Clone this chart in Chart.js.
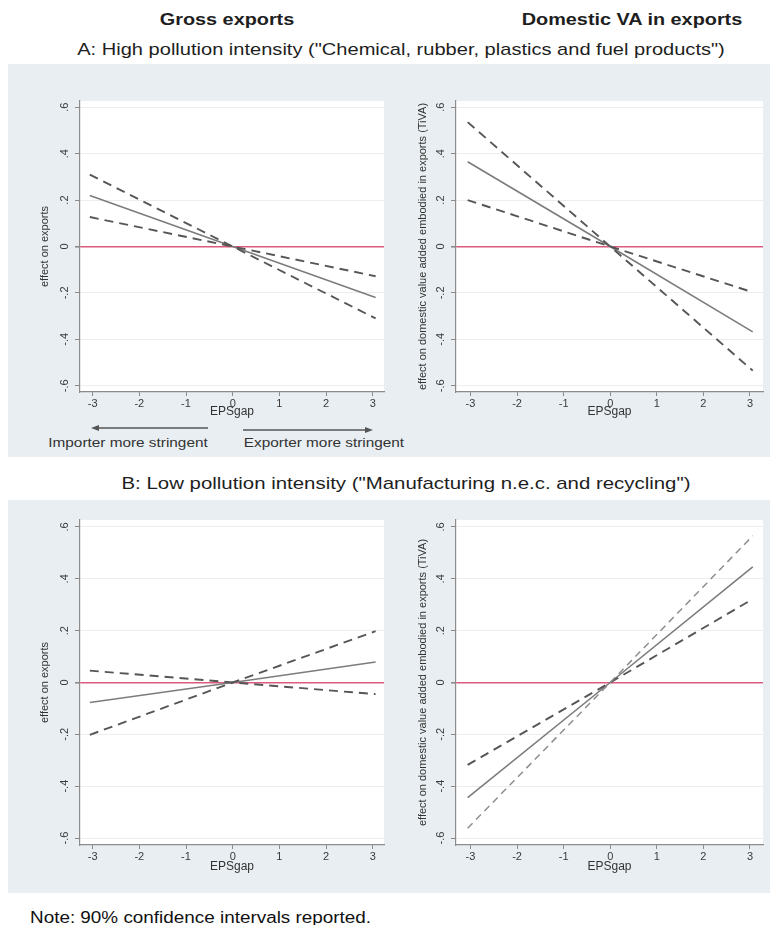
<!DOCTYPE html>
<html><head><meta charset="utf-8">
<script src="https://cdn.jsdelivr.net/npm/chart.js@4/dist/chart.umd.min.js"></script>
<style>
html,body{margin:0;padding:0;background:#fff;}
body{width:777px;height:925px;position:relative;overflow:hidden;font-family:'Liberation Sans',Arial,sans-serif;color:#1e1e1e;}
.panel{position:absolute;left:8px;width:762px;background:#e8eef1;}
.t{position:absolute;white-space:nowrap;line-height:1;transform-origin:center center;}
.wrap{position:absolute;}
</style></head><body>
<div class="panel" style="top:64px;height:393px"></div>
<div class="panel" style="top:500px;height:393px"></div>

<div class="t" style="left:227px;top:20px;font-size:16px;font-weight:bold;transform:translate(-50%,-50%) scaleX(1.24)">Gross exports</div>
<div class="t" style="left:632px;top:20px;font-size:16px;font-weight:bold;transform:translate(-50%,-50%) scaleX(1.24)">Domestic VA in exports</div>
<div class="t" style="left:401px;top:49px;font-size:17px;transform:translate(-50%,-50%) scaleX(1.18)">A: High pollution intensity (&quot;Chemical, rubber, plastics and fuel products&quot;)</div>
<div class="t" style="left:406px;top:483px;font-size:17px;transform:translate(-50%,-50%) scaleX(1.2)">B: Low pollution intensity (&quot;Manufacturing n.e.c. and recycling&quot;)</div>
<div class="t" style="left:128px;top:442px;font-size:13px;color:#333;transform:translate(-50%,-50%) scaleX(1.18)">Importer more stringent</div>
<div class="t" style="left:324px;top:442px;font-size:13px;color:#333;transform:translate(-50%,-50%) scaleX(1.18)">Exporter more stringent</div>
<div class="t" style="left:30px;top:918px;font-size:16px;color:#111;transform-origin:left center;transform:translateY(-50%) scaleX(1.18)">Note: 90% confidence intervals reported.</div>

<svg style="position:absolute;left:0;top:415px" width="400" height="25">
  <line x1="208" y1="13" x2="96" y2="13" stroke="#555" stroke-width="1.4"/>
  <polygon points="91,13 99,10 99,16" fill="#555"/>
  <line x1="243" y1="15" x2="368" y2="15" stroke="#555" stroke-width="1.4"/>
  <polygon points="373,15 365,12 365,18" fill="#555"/>
</svg>

<div class="wrap" style="left:8px;top:64px;width:380px;height:393px"><canvas id="c1"></canvas></div>
<div class="wrap" style="left:388px;top:64px;width:382px;height:393px"><canvas id="c2"></canvas></div>
<div class="wrap" style="left:8px;top:500px;width:380px;height:393px"><canvas id="c3"></canvas></div>
<div class="wrap" style="left:388px;top:500px;width:382px;height:393px"><canvas id="c4"></canvas></div>

<script>
// ---- data ----
const epsGap = [-3.06, 0, 3.06];
const xTicks = [-3, -2, -1, 0, 1, 2, 3];
const xTickLabels = ['-3', '-2', '-1', '0', '1', '2', '3'];
const yTicks = [-0.6, -0.4, -0.2, 0, 0.2, 0.4, 0.6];
const yTickLabels = ['-.6', '-.4', '-.2', '0', '.2', '.4', '.6'];

// A: High pollution intensity — gross exports
const grossA_est = [0.22, 0, -0.22];
const grossA_ciSteep = [0.31, 0, -0.31];
const grossA_ciFlat = [0.127, 0, -0.128];
// A: High pollution intensity — domestic VA (TiVA)
const tivaA_est = [0.365, 0, -0.368];
const tivaA_ciSteep = [0.536, 0, -0.535];
const tivaA_ciFlat = [0.2, 0, -0.197];
// B: Low pollution intensity — gross exports
const grossB_est = [-0.077, 0, 0.079];
const grossB_ciSteep = [-0.202, 0, 0.198];
const grossB_ciFlat = [0.046, 0, -0.045];
// B: Low pollution intensity — domestic VA (TiVA)
const tivaB_est = [-0.444, 0, 0.446];
const tivaB_ciSteep = [-0.562, 0, 0.566];
const tivaB_ciFlat = [-0.318, 0, 0.322];

const yTitleGross = 'effect on exports';
const yTitleTiva = 'effect on domestic value added embodied in exports (TiVA)';
const xTitle = 'EPSgap';

// ---- drawing ----
Chart.defaults.font.family = "'Liberation Sans', Arial, sans-serif";
const pts = arr => epsGap.map((x, i) => ({x: x, y: arr[i]}));

const plotBg = {
  id: 'plotBg',
  beforeDraw(chart) {
    const a = chart.chartArea, c = chart.ctx;
    c.save(); c.fillStyle = '#ffffff';
    c.fillRect(a.left, a.top, a.right - a.left, a.bottom - a.top);
    c.restore();
  }
};

function makeChart(id, s) {
  return new Chart(document.getElementById(id), {
    type: 'line',
    data: {datasets: [
      {data: pts(s.steep), borderColor: s.steepColor || '#565656', borderWidth: s.steepWidth || 1.9, borderDash: s.steepDash || [9, 6]},
      {data: pts(s.flat), borderColor: '#565656', borderWidth: 1.9, borderDash: [9, 6]},
      {data: pts(s.est), borderColor: '#7c7c7c', borderWidth: 1.6}
    ]},
    options: {
      responsive: true, maintainAspectRatio: false, animation: false,
      layout: {padding: {top: s.padTop, right: s.padRight, left: 0, bottom: 0}},
      plugins: {legend: {display: false}, tooltip: {enabled: false}},
      elements: {point: {radius: 0}, line: {tension: 0}},
      scales: {
        x: {
          type: 'linear', min: s.xmin, max: s.xmax,
          afterBuildTicks: sc => { sc.ticks = xTicks.map(v => ({value: v})); },
          afterFit: sc => { sc.height = s.xH; },
          grid: {drawOnChartArea: false, drawTicks: true, tickLength: 4, tickColor: '#8a8a8a'},
          border: {display: true, color: '#8c8c8c', width: 1.2},
          ticks: {autoSkip: false, maxRotation: 0, padding: 1, color: '#3a3a3a', font: {size: 11},
                  callback: (v, i) => xTickLabels[i]},
          title: {display: true, text: xTitle, color: '#333', font: {size: 12},
                  padding: {top: 0, bottom: s.xTitlePad}}
        },
        y: {
          type: 'linear', min: -0.627, max: 0.627,
          afterBuildTicks: sc => { sc.ticks = yTicks.map(v => ({value: v})); },
          afterFit: sc => { sc.width = s.yW; },
          grid: {drawTicks: true, tickLength: 5, tickColor: '#8a8a8a',
                 color: c => (c.tick && c.tick.value === 0) ? '#dc5a7c' : '#e9eef1',
                 lineWidth: c => (c.tick && c.tick.value === 0) ? 1.6 : 1},
          border: {display: true, color: '#8c8c8c', width: 1.2},
          ticks: {autoSkip: false, minRotation: 90, maxRotation: 90, crossAlign: 'center', padding: 4,
                  color: '#3a3a3a', font: {size: 11}, callback: (v, i) => yTickLabels[i]},
          title: {display: true, text: s.yTitle, color: '#333', font: {size: 11},
                  padding: {top: s.yTitlePad, bottom: 0}}
        }
      }
    },
    plugins: [plotBg]
  });
}

makeChart('c1', {est: grossA_est, steep: grossA_ciSteep, flat: grossA_ciFlat, yTitle: yTitleGross,
  xmin: -3.27, xmax: 3.24, padTop: 37, padRight: 4, yW: 72, xH: 65, yTitlePad: 30.4, xTitlePad: 38.3});
makeChart('c2', {est: tivaA_est, steep: tivaA_ciSteep, flat: tivaA_ciFlat, yTitle: yTitleTiva,
  xmin: -3.31, xmax: 3.28, padTop: 37, padRight: 7, yW: 68, xH: 65, yTitlePad: 28.4, xTitlePad: 38.3});
makeChart('c3', {est: grossB_est, steep: grossB_ciSteep, flat: grossB_ciFlat, yTitle: yTitleGross,
  xmin: -3.27, xmax: 3.24, padTop: 20, padRight: 4, yW: 72, xH: 48, yTitlePad: 30.4, xTitlePad: 18.8});
makeChart('c4', {est: tivaB_est, steep: tivaB_ciSteep, flat: tivaB_ciFlat, yTitle: yTitleTiva,
  steepColor: '#8e8e8e', steepWidth: 1.5, steepDash: [7, 5],
  xmin: -3.31, xmax: 3.28, padTop: 20, padRight: 7, yW: 68, xH: 48, yTitlePad: 28.4, xTitlePad: 18.8});
</script>
</body></html>
